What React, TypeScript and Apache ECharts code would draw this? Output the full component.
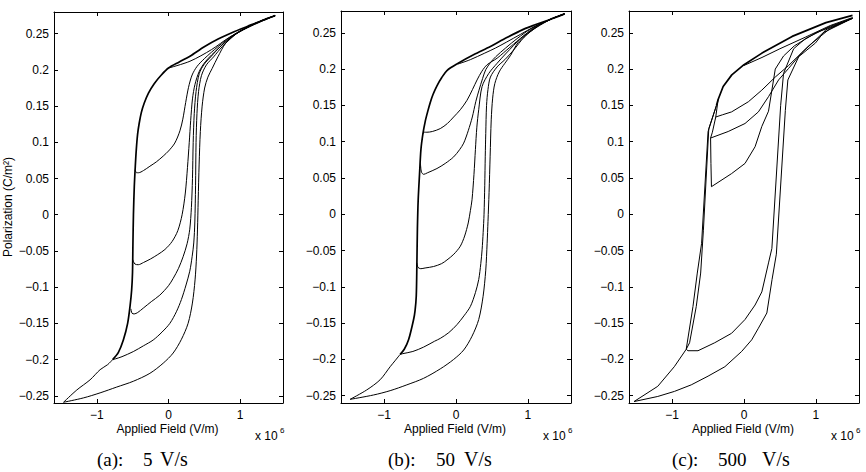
import React, { useEffect, useRef } from "react";
import * as echarts from "echarts";

// Axis extents and tick positions (field in units of 10^6 V/m, polarization in C/m^2)
const X_RANGE = [-1.6, 1.6];
const Y_RANGE = [-0.26, 0.28];
const X_TICKS = [-1, 0, 1];
const Y_TICKS = [-0.25, -0.2, -0.15, -0.1, -0.05, 0, 0.05, 0.1, 0.15, 0.2, 0.25];

const X_TITLE = "Applied Field (V/m)";
const Y_TITLE = "Polarization (C/m²)";
const X_EXP_BASE = "x 10";
const X_EXP_POWER = "6";
const PANEL_TAGS = ["(a):", "(b):", "(c):"];
const RATE_VALUES = ["5", "50", "500"];
const RATE_UNIT = "V/s";

// ---------- (a) 5 V/s ----------
const A_DESC = [[1.49,0.275],[1.3,0.268],[1.1,0.26],[0.9,0.252],[0.7,0.243],[0.5,0.232],[0.3,0.219],[0.15,0.211],[0,0.2026],[-0.1,0.193],[-0.2,0.181],[-0.28,0.168],[-0.34,0.154],[-0.38,0.141],[-0.41,0.126],[-0.432,0.111],[-0.45,0.09],[-0.464,0.067],[-0.478,0.039],[-0.49,0.0],[-0.497,-0.04],[-0.503,-0.08],[-0.515,-0.104],[-0.535,-0.124],[-0.571,-0.15],[-0.631,-0.173],[-0.7,-0.19],[-0.78,-0.2]];
const A_TAIL = [[-0.78,-0.2],[-0.85,-0.207],[-0.956,-0.214],[-1.096,-0.228],[-1.281,-0.242],[-1.467,-0.259]];
const A_MAJOR_UP = [[-1.467,-0.259],[-1.19,-0.253],[-0.956,-0.246],[-0.724,-0.238],[-0.492,-0.23],[-0.26,-0.219],[-0.074,-0.205],[0.065,-0.191],[0.181,-0.172],[0.274,-0.15],[0.334,-0.122],[0.371,-0.09],[0.392,-0.057],[0.405,-0.021],[0.415,0.02],[0.428,0.07],[0.445,0.115],[0.47,0.15],[0.505,0.175],[0.55,0.19],[0.61,0.202],[0.69,0.218],[0.8,0.237],[0.95,0.25],[1.15,0.261],[1.33,0.269],[1.49,0.275]];
const A_REV_P200 = [[0,0.2026],[0.3,0.212],[0.6,0.228],[0.85,0.245],[1.1,0.258],[1.3,0.267],[1.49,0.275]];
const A_REV_P058 = [[-0.468,0.062],[-0.445,0.058],[-0.42,0.058],[-0.35,0.061],[-0.26,0.067],[-0.17,0.073],[-0.074,0.081],[0.0,0.088],[0.088,0.099],[0.16,0.116],[0.2,0.132],[0.24,0.155],[0.28,0.176],[0.33,0.193],[0.4,0.205],[0.506,0.216],[0.69,0.232],[0.9,0.248],[1.1,0.259],[1.3,0.268],[1.49,0.275]];
const A_REV_N070 = [[-0.5,-0.062],[-0.47,-0.068],[-0.422,-0.069],[-0.35,-0.066],[-0.25,-0.061],[-0.15,-0.055],[-0.05,-0.048],[0.05,-0.037],[0.13,-0.022],[0.19,0.0],[0.235,0.03],[0.265,0.065],[0.29,0.1],[0.31,0.13],[0.335,0.16],[0.37,0.18],[0.43,0.198],[0.52,0.212],[0.69,0.229],[0.9,0.247],[1.1,0.259],[1.3,0.268],[1.49,0.275]];
const A_REV_N137 = [[-0.525,-0.13],[-0.51,-0.136],[-0.48,-0.137],[-0.43,-0.135],[-0.353,-0.129],[-0.24,-0.12],[-0.121,-0.111],[0.0,-0.098],[0.065,-0.088],[0.14,-0.074],[0.204,-0.058],[0.26,-0.04],[0.297,-0.02],[0.32,0.01],[0.335,0.05],[0.345,0.1],[0.36,0.14],[0.385,0.17],[0.43,0.195],[0.5,0.208],[0.6,0.219],[0.72,0.232],[0.9,0.247],[1.1,0.259],[1.3,0.268],[1.49,0.275]];
const A_REV_N200 = [[-0.78,-0.2],[-0.74,-0.199],[-0.65,-0.196],[-0.492,-0.189],[-0.35,-0.181],[-0.214,-0.173],[-0.09,-0.162],[0.019,-0.15],[0.11,-0.134],[0.181,-0.117],[0.245,-0.097],[0.297,-0.078],[0.33,-0.058],[0.353,-0.039],[0.368,-0.01],[0.378,0.04],[0.385,0.1],[0.398,0.14],[0.42,0.17],[0.46,0.192],[0.53,0.207],[0.63,0.218],[0.75,0.232],[0.95,0.25],[1.15,0.261],[1.33,0.269],[1.49,0.275]];

// ---------- (b) 50 V/s ----------
const B_DESC = [[1.51,0.276],[1.3,0.268],[1.1,0.261],[0.944,0.255],[0.7,0.243],[0.479,0.231],[0.25,0.22],[0.03,0.208],[-0.126,0.198],[-0.2,0.188],[-0.265,0.177],[-0.32,0.165],[-0.358,0.154],[-0.395,0.141],[-0.428,0.128],[-0.46,0.111],[-0.488,0.089],[-0.507,0.056],[-0.526,0.02],[-0.537,-0.02],[-0.544,-0.067],[-0.553,-0.113],[-0.57,-0.133],[-0.59,-0.145],[-0.66,-0.173],[-0.72,-0.186],[-0.777,-0.193]];
const B_TAIL = [[-0.777,-0.193],[-0.85,-0.202],[-0.916,-0.21],[-1.056,-0.228],[-1.242,-0.242],[-1.474,-0.255]];
const B_MAJOR_UP = [[-1.474,-0.255],[-1.149,-0.249],[-0.916,-0.243],[-0.684,-0.235],[-0.451,-0.226],[-0.219,-0.213],[-0.033,-0.2],[0.107,-0.187],[0.223,-0.168],[0.316,-0.145],[0.377,-0.113],[0.414,-0.077],[0.433,-0.04],[0.445,-0.01],[0.46,0.03],[0.475,0.08],[0.49,0.13],[0.51,0.16],[0.54,0.18],[0.6,0.196],[0.68,0.208],[0.76,0.219],[0.86,0.236],[1.0,0.249],[1.18,0.261],[1.35,0.27],[1.51,0.276]];
const B_REV_P208 = [[0.03,0.207],[0.2,0.213],[0.4,0.222],[0.55,0.229],[0.7,0.237],[0.9,0.248],[1.1,0.259],[1.3,0.268],[1.51,0.276]];
const B_REV_P112 = [[-0.46,0.111],[-0.44,0.113],[-0.405,0.113],[-0.33,0.114],[-0.219,0.118],[-0.12,0.125],[-0.033,0.134],[0.06,0.144],[0.153,0.157],[0.23,0.172],[0.293,0.185],[0.36,0.197],[0.433,0.206],[0.572,0.215],[0.75,0.23],[0.944,0.246],[1.15,0.26],[1.35,0.27],[1.51,0.276]];
const B_REV_P055 = [[-0.495,0.07],[-0.48,0.058],[-0.45,0.055],[-0.4,0.057],[-0.265,0.063],[-0.15,0.07],[-0.033,0.079],[0.05,0.089],[0.107,0.098],[0.17,0.115],[0.227,0.134],[0.275,0.155],[0.32,0.171],[0.37,0.187],[0.413,0.199],[0.48,0.209],[0.553,0.217],[0.69,0.229],[0.85,0.242],[1.05,0.256],[1.3,0.268],[1.51,0.276]];
const B_REV_N075 = [[-0.544,-0.067],[-0.53,-0.073],[-0.49,-0.075],[-0.43,-0.074],[-0.312,-0.072],[-0.2,-0.068],[-0.126,-0.063],[-0.03,-0.055],[0.06,-0.044],[0.12,-0.03],[0.17,-0.012],[0.2,0.005],[0.223,0.02],[0.25,0.055],[0.27,0.089],[0.29,0.12],[0.316,0.144],[0.363,0.176],[0.456,0.194],[0.572,0.208],[0.7,0.222],[0.9,0.242],[1.1,0.258],[1.3,0.268],[1.51,0.276]];
const B_REV_N193 = [[-0.777,-0.193],[-0.74,-0.192],[-0.6,-0.189],[-0.451,-0.183],[-0.3,-0.175],[-0.219,-0.171],[-0.1,-0.163],[0.014,-0.152],[0.11,-0.14],[0.2,-0.127],[0.27,-0.108],[0.316,-0.09],[0.345,-0.068],[0.363,-0.049],[0.378,-0.025],[0.39,0.0],[0.4,0.04],[0.407,0.08],[0.414,0.111],[0.425,0.15],[0.445,0.172],[0.479,0.189],[0.572,0.203],[0.68,0.213],[0.8,0.226],[0.95,0.244],[1.15,0.26],[1.35,0.27],[1.51,0.276]];

// ---------- (c) 500 V/s ----------
const C_DESC = [[1.51,0.274],[1.14,0.264],[0.67,0.245],[0.25,0.222],[0,0.206],[-0.17,0.192],[-0.29,0.176],[-0.36,0.158],[-0.383,0.15]];
const C_DESC_TO_N188 = [[-0.383,0.15],[-0.5,0.114],[-0.59,-0.04],[-0.65,-0.081],[-0.71,-0.127],[-0.804,-0.186]];
const C_DESC_TO_TIP = [[-0.383,0.15],[-0.49,0.118],[-0.565,-0.022],[-0.603,-0.081],[-0.664,-0.127],[-0.757,-0.177],[-0.804,-0.186],[-0.97,-0.21],[-1.2,-0.237],[-1.53,-0.258]];
const C_DESC_UPPER = [[-0.36,0.158],[-0.393,0.134],[-0.44,0.113],[-0.465,0.105],[-0.46,0.07],[-0.453,0.038]];
const C_MAJOR_UP = [[-1.53,-0.258],[-1.2,-0.251],[-0.967,-0.244],[-0.734,-0.235],[-0.5,-0.223],[-0.266,-0.21],[-0.033,-0.189],[0.107,-0.173],[0.2,-0.157],[0.318,-0.136],[0.39,-0.09],[0.45,-0.055],[0.575,0.143],[0.61,0.185],[0.761,0.217],[0.995,0.236],[1.136,0.254],[1.51,0.27]];
const C_REV_P206 = [[0,0.205],[0.25,0.216],[0.5,0.228],[0.855,0.244],[1.2,0.26],[1.51,0.271]];
const C_REV_P134 = [[-0.393,0.134],[-0.3,0.137],[-0.173,0.141],[0.061,0.155],[0.248,0.171],[0.435,0.189],[0.621,0.205],[0.9,0.232],[1.2,0.256],[1.51,0.27]];
const C_REV_P105 = [[-0.465,0.105],[-0.22,0.114],[0.014,0.125],[0.2,0.141],[0.341,0.162],[0.481,0.185],[0.621,0.201],[0.8,0.222],[1.1,0.25],[1.51,0.27]];
const C_REV_P038 = [[-0.453,0.038],[-0.173,0.056],[0.014,0.07],[0.154,0.093],[0.248,0.121],[0.341,0.142],[0.435,0.2],[0.55,0.218],[0.7,0.232],[1.0,0.25],[1.51,0.27]];
const C_REV_N188 = [[-0.804,-0.186],[-0.78,-0.188],[-0.64,-0.188],[-0.407,-0.177],[-0.173,-0.164],[0.014,-0.145],[0.154,-0.125],[0.248,-0.107],[0.341,-0.067],[0.388,-0.047],[0.51,0.15],[0.55,0.194],[0.691,0.228],[0.855,0.242],[1.2,0.259],[1.51,0.27]];

// Per-panel curve groups: the repeatedly traced descending branch is drawn heavier
const PANELS = [
  { heavy: [A_DESC], thin: [A_TAIL, A_MAJOR_UP, A_REV_P200, A_REV_P058, A_REV_N070, A_REV_N137, A_REV_N200], smooth: 0.3 },
  { heavy: [B_DESC], thin: [B_TAIL, B_MAJOR_UP, B_REV_P208, B_REV_P112, B_REV_P055, B_REV_N075, B_REV_N193], smooth: 0.3 },
  { heavy: [C_DESC], thin: [C_DESC_TO_N188, C_DESC_TO_TIP, C_DESC_UPPER, C_MAJOR_UP, C_REV_P206, C_REV_P134, C_REV_P105, C_REV_P038, C_REV_N188], smooth: false },
];

// Layout (pixels)
const GRIDS = [
  { left: 54, top: 12, width: 229, height: 391 },
  { left: 341, top: 11, width: 230, height: 392 },
  { left: 629, top: 11, width: 230, height: 392 },
];
const TAG_X = [97, 388, 672];
const RATE_X = [143, 436, 718];
const UNIT_X = [160, 464, 762];

const SANS = '"Liberation Sans", Arial, Helvetica, sans-serif';
const SERIF = '"Liberation Serif", "Times New Roman", serif';

const fmt = (v: number) => {
  const s = String(Number(v.toFixed(3)));
  return s.replace("-", "\u2212");
};

function buildOption() {
  const xAxes: any[] = [];
  const yAxes: any[] = [];
  const series: any[] = [];
  const graphic: any[] = [];

  GRIDS.forEach((g, i) => {
    const frameLine = { show: true, onZero: false, lineStyle: { color: "#000", width: 1 } };
    const tick = (vals: number[]) => ({
      show: true, inside: true, length: 4, customValues: vals,
      lineStyle: { color: "#000", width: 1 },
    });
    const label = (vals: number[]) => ({
      show: true, customValues: vals, formatter: fmt, color: "#000",
      fontSize: 12, fontFamily: SANS,
    });
    xAxes.push({
      type: "value", gridIndex: i, position: "bottom", min: X_RANGE[0], max: X_RANGE[1],
      axisLine: frameLine, axisTick: tick(X_TICKS), axisLabel: { ...label(X_TICKS), margin: 6 },
      splitLine: { show: false },
    });
    xAxes.push({
      type: "value", gridIndex: i, position: "top", min: X_RANGE[0], max: X_RANGE[1],
      axisLine: frameLine, axisTick: tick(X_TICKS), axisLabel: { show: false },
      splitLine: { show: false },
    });
    yAxes.push({
      type: "value", gridIndex: i, position: "left", min: Y_RANGE[0], max: Y_RANGE[1],
      axisLine: frameLine, axisTick: tick(Y_TICKS), axisLabel: { ...label(Y_TICKS), margin: 5 },
      splitLine: { show: false },
    });
    yAxes.push({
      type: "value", gridIndex: i, position: "right", min: Y_RANGE[0], max: Y_RANGE[1],
      axisLine: frameLine, axisTick: tick(Y_TICKS), axisLabel: { show: false },
      splitLine: { show: false },
    });

    const p = PANELS[i];
    const addLine = (data: number[][], width: number) =>
      series.push({
        type: "line", xAxisIndex: 2 * i, yAxisIndex: 2 * i, data,
        showSymbol: false, symbol: "none", smooth: p.smooth, silent: true,
        lineStyle: { color: "#000", width }, z: 3,
      });
    p.thin.forEach((d) => addLine(d, 1));
    p.heavy.forEach((d) => addLine(d, 1.7));

    const cx = g.left + g.width / 2;
    const right = g.left + g.width;
    const txt = (x: number, y: number, text: string, font: string, align: string) => ({
      type: "text", x, y, silent: true,
      style: { text, font, fill: "#000", align, verticalAlign: "middle", textAlign: align, textVerticalAlign: "middle" },
    });
    graphic.push(txt(cx - 1, 429, X_TITLE, `12px ${SANS}`, "center"));
    graphic.push(txt(right - 28, 436, X_EXP_BASE, `12px ${SANS}`, "left"));
    graphic.push(txt(right - 3, 430, X_EXP_POWER, `8px ${SANS}`, "left"));
    graphic.push(txt(TAG_X[i], 459, PANEL_TAGS[i], `19px ${SERIF}`, "left"));
    graphic.push(txt(RATE_X[i], 459, RATE_VALUES[i], `19px ${SERIF}`, "left"));
    graphic.push(txt(UNIT_X[i], 459, RATE_UNIT, `20px ${SERIF}`, "left"));
  });

  graphic.push({
    type: "text", x: 7.5, y: 207, rotation: Math.PI / 2, silent: true,
    style: { text: Y_TITLE, font: `12px ${SANS}`, fill: "#000", align: "center", verticalAlign: "middle", textAlign: "center", textVerticalAlign: "middle" },
  });

  return {
    animation: false,
    backgroundColor: "#fff",
    grid: GRIDS.map((g) => ({ ...g, containLabel: false })),
    xAxis: xAxes,
    yAxis: yAxes,
    series,
    graphic,
  };
}

export default function App() {
  const ref = useRef<HTMLDivElement>(null);
  useEffect(() => {
    if (!ref.current) return;
    const chart = echarts.init(ref.current, undefined, { renderer: "svg" });
    chart.setOption(buildOption() as any);
    return () => chart.dispose();
  }, []);
  return (
    <div
      ref={ref}
      style={{ position: "fixed", left: 0, top: 0, width: 866, height: 472, background: "#fff" }}
    />
  );
}
